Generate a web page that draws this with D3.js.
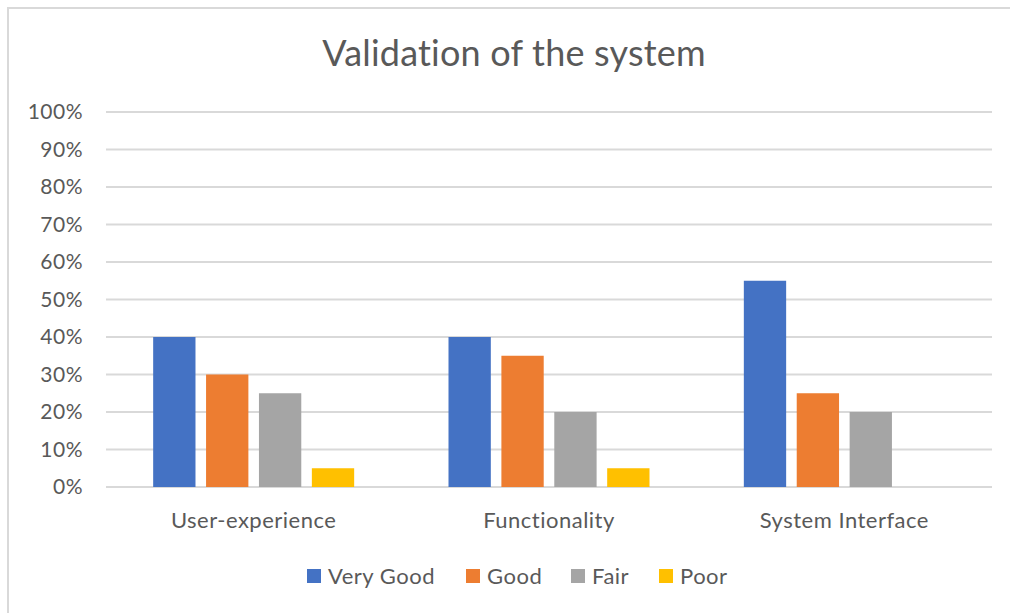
<!DOCTYPE html>
<html>
<head>
<meta charset="utf-8">
<script src="https://cdn.jsdelivr.net/npm/d3@7"></script>
<style>
  body { margin: 0; background: #fff; }
  text { font-family: Lato, "Open Sans", sans-serif; fill: #595959; }
</style>
</head>
<body>
<div id="chart"></div>
<script>
var categories = ["User-experience", "Functionality", "System Interface"];
var series = ["Very Good", "Good", "Fair", "Poor"];
var veryGood = [40, 40, 55];
var good = [30, 35, 25];
var fair = [25, 20, 20];
var poor = [5, 5, 0];
var yTicks = [0, 10, 20, 30, 40, 50, 60, 70, 80, 90, 100];
var colors = ["#4472c4", "#ed7d31", "#a5a5a5", "#ffc000"];

var values = [veryGood, good, fair, poor];
var data = categories.map(function(c, i) {
  return {cat: c, vals: series.map(function(s, j) { return {key: s, v: values[j][i]}; })};
});

var W = 1010, H = 613;
var svg = d3.select("#chart").append("svg")
  .attr("width", W)
  .attr("height", H);

// chart frame (cut off at right / bottom like the original)
svg.append("rect")
  .attr("x", 8).attr("y", 8)
  .attr("width", 1010).attr("height", 620)
  .attr("fill", "none")
  .attr("stroke", "#d9d9d9")
  .attr("stroke-width", 2);

var x0 = d3.scaleBand()
  .domain(categories)
  .range([106, 992]);

var x1 = d3.scaleBand()
  .domain(series)
  .range([0, 201])
  .paddingInner(0.2);

var y = d3.scaleLinear()
  .domain([0, 100])
  .range([487, 112]);

// gridlines
svg.append("g")
  .selectAll("line")
  .data(yTicks)
  .enter()
  .append("line")
    .attr("x1", 106)
    .attr("x2", 992)
    .attr("y1", function(d) { return y(d); })
    .attr("y2", function(d) { return y(d); })
    .attr("stroke", "#d9d9d9")
    .style("stroke-width", 2);

// y labels
svg.append("g")
  .selectAll("text")
  .data(yTicks)
  .enter()
  .append("text")
    .attr("x", 83)
    .attr("y", function(d) { return y(d); })
    .attr("dy", "0.35em")
    .attr("text-anchor", "end")
    .style("font-size", "21px")
    .style("letter-spacing", "0.5px")
    .text(function(d) { return d + "%"; });

// bars
var groups = svg.append("g")
  .selectAll("g")
  .data(data)
  .enter()
  .append("g")
    .attr("transform", function(d) {
      return "translate(" + (x0(d.cat) + x0.bandwidth() / 2 - 100.5) + ",0)";
    });

groups.selectAll("rect")
  .data(function(d) { return d.vals.filter(function(e) { return e.v > 0; }); })
  .enter()
  .append("rect")
    .attr("x", function(d) { return x1(d.key); })
    .attr("y", function(d) { return y(d.v); })
    .attr("width", x1.bandwidth())
    .attr("height", function(d) { return y(0) - y(d.v); })
    .attr("fill", function(d) { return colors[series.indexOf(d.key)]; });

// category labels
svg.append("g")
  .selectAll("text")
  .data(categories)
  .enter()
  .append("text")
    .attr("x", function(d) { return x0(d) + x0.bandwidth() / 2; })
    .attr("y", 528)
    .attr("text-anchor", "middle")
    .style("font-size", "22px")
    .style("letter-spacing", "0.5px")
    .text(function(d) { return d; });

// title
svg.append("text")
  .attr("x", 514)
  .attr("y", 66)
  .attr("text-anchor", "middle")
  .style("font-size", "36px")
  .style("letter-spacing", "0.2px")
  .text("Validation of the system");

// legend
var legendX = [307, 466, 571, 659];
var legend = svg.append("g")
  .selectAll("g")
  .data(series)
  .enter()
  .append("g")
    .attr("transform", function(d, i) { return "translate(" + legendX[i] + ",569)"; });

legend.append("rect")
  .attr("width", 14)
  .attr("height", 14)
  .attr("fill", function(d, i) { return colors[i]; });

legend.append("text")
  .attr("x", 21)
  .attr("y", 7)
  .attr("dy", "0.35em")
  .style("font-size", "22px")
  .style("letter-spacing", "0.5px")
  .text(function(d) { return d; });
</script>
</body>
</html>
